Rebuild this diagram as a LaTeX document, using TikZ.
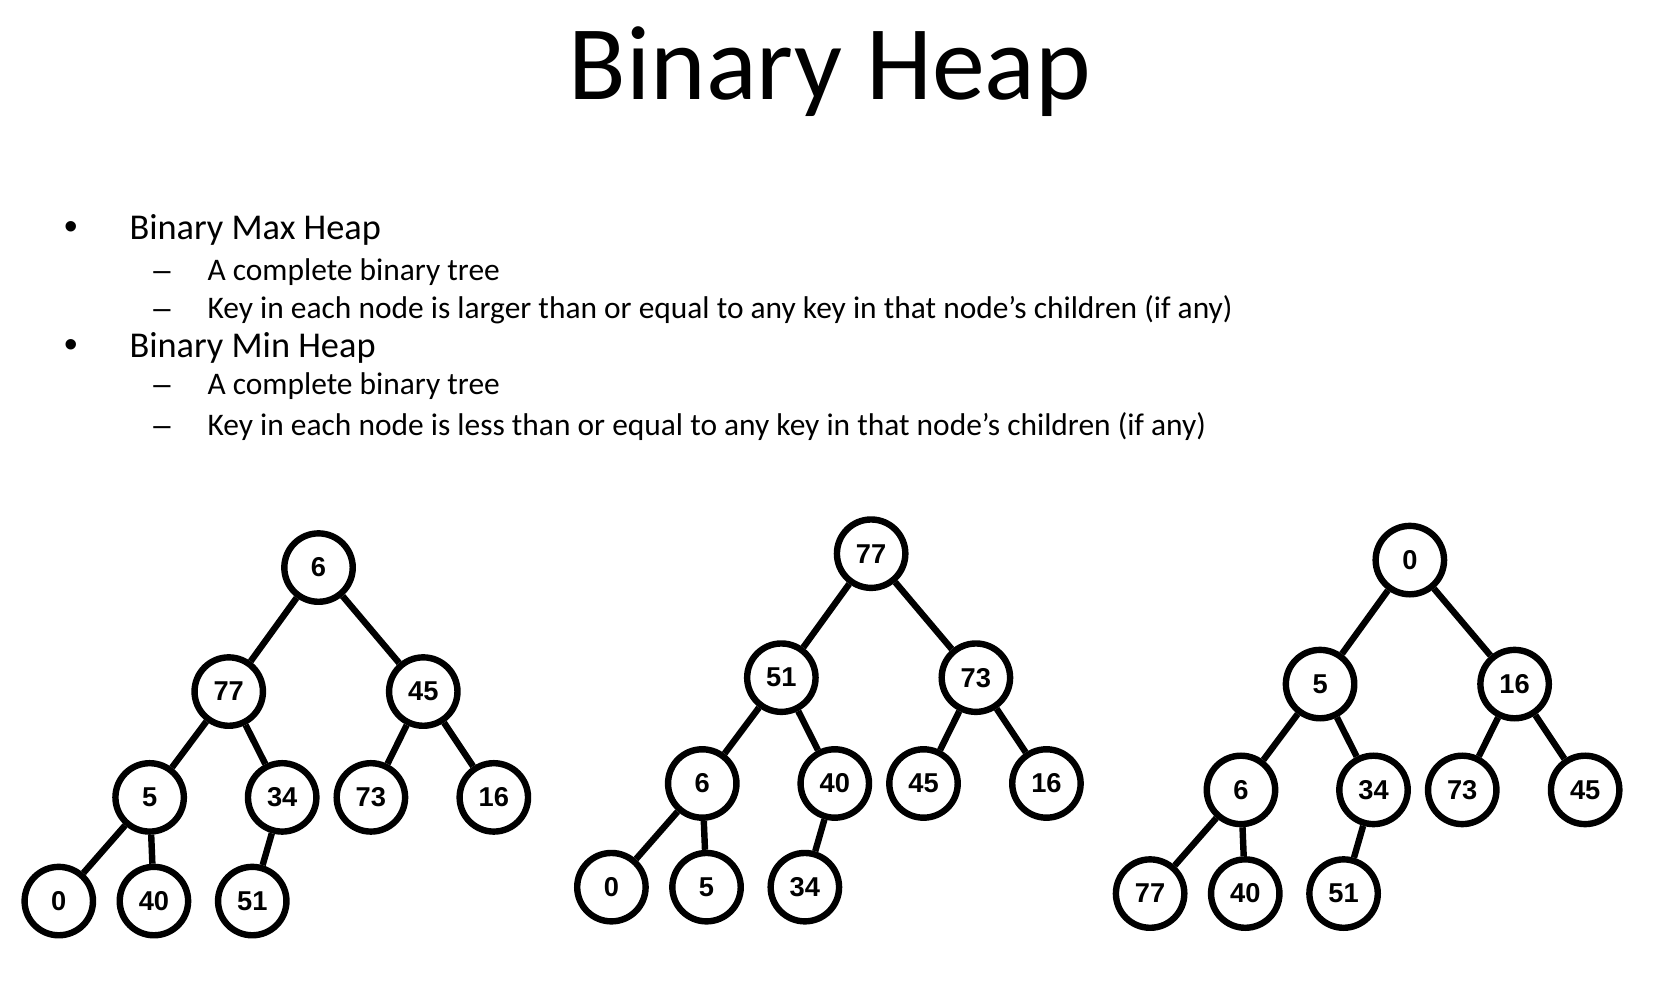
\documentclass[tikz,border=0pt]{standalone}
\usepackage{fontspec}
\setmainfont{Carlito}
\newfontfamily\keyfont{Liberation Sans}
\begin{document}
\begin{tikzpicture}[x=1pt, y=-1pt,
  heapnode/.style={circle, draw=black, line width=6pt, minimum size=64pt,
    inner sep=0pt, fill=white, font=\keyfont\bfseries\fontsize{25.5}{26}\selectfont},
  edge/.style={line width=6pt, black},
  lvlone/.style={anchor=base west, inner sep=0pt, font=\fontsize{34}{40}\selectfont},
  lvltwo/.style={anchor=base west, inner sep=0pt, font=\fontsize{29.4}{34}\selectfont},
  mark1/.style={anchor=base, inner sep=0pt, font=\keyfont\fontsize{36}{40}\selectfont},
  mark2/.style={anchor=base, inner sep=0pt, font=\keyfont\fontsize{29}{34}\selectfont}]
\fill[white] (0,0) rectangle (1568,941);
\useasboundingbox (0,0) rectangle (1568,941);

% heading
\node[anchor=base, inner sep=0pt] (title) at (776.5,93) {\fontsize{99}{108}\selectfont Binary Heap};

% bullet list
\node[mark1] (b1) at (67,224) {•};
\node[lvlone] (maxh) at (121,224) {Binary Max Heap};
\node[mark2] (d1) at (151.5,262) {–};
\node[lvltwo] (maxa) at (194,262) {A complete binary tree};
\node[mark2] (d2) at (151.5,298) {–};
\node[lvltwo] (maxb) at (194,298) {Key in each node is larger than or equal to any key in that node’s children (if any)};
\node[mark1] (b2) at (67,334) {•};
\node[lvlone] (minh) at (121,334) {Binary Min Heap};
\node[mark2] (d3) at (151.5,369.5) {–};
\node[lvltwo] (mina) at (194,369.5) {A complete binary tree};
\node[mark2] (d4) at (151.5,407) {–};
\node[lvltwo] (minb) at (194,407) {Key in each node is less than or equal to any key in that node’s children (if any)};

% tree 1: a complete binary tree
\begin{scope}[shift={(298,531)}]
  \node[heapnode] (ar)   at (0,0)      {6};
  \node[heapnode] (al)   at (-84,116)  {77};
  \node[heapnode] (ai)   at (98,116)   {45};
  \node[heapnode] (all)  at (-158,215) {5};
  \node[heapnode] (alr)  at (-34,215)  {34};
  \node[heapnode] (ail)  at (49,215)   {73};
  \node[heapnode] (air)  at (164,215)  {16};
  \node[heapnode] (alll) at (-243,312) {0};
  \node[heapnode] (allr) at (-154,312) {40};
  \node[heapnode] (alrl) at (-62,312)  {51};
\end{scope}
\draw[edge] (ar) -- (al);  \draw[edge] (ar) -- (ai);
\draw[edge] (al) -- (all); \draw[edge] (al) -- (alr);
\draw[edge] (ai) -- (ail); \draw[edge] (ai) -- (air);
\draw[edge] (all) -- (alll); \draw[edge] (all) -- (allr);
\draw[edge] (alr) -- (alrl);

% tree 2: max heap
\begin{scope}[shift={(815,518)}]
  \node[heapnode] (br)   at (0,0)      {77};
  \node[heapnode] (bl)   at (-84,116)  {51};
  \node[heapnode] (bi)   at (98,116)   {73};
  \node[heapnode] (bll)  at (-158,215) {6};
  \node[heapnode] (blr)  at (-34,215)  {40};
  \node[heapnode] (bil)  at (49,215)   {45};
  \node[heapnode] (bir)  at (164,215)  {16};
  \node[heapnode] (blll) at (-243,312) {0};
  \node[heapnode] (bllr) at (-154,312) {5};
  \node[heapnode] (blrl) at (-62,312)  {34};
\end{scope}
\draw[edge] (br) -- (bl);  \draw[edge] (br) -- (bi);
\draw[edge] (bl) -- (bll); \draw[edge] (bl) -- (blr);
\draw[edge] (bi) -- (bil); \draw[edge] (bi) -- (bir);
\draw[edge] (bll) -- (blll); \draw[edge] (bll) -- (bllr);
\draw[edge] (blr) -- (blrl);

% tree 3: min heap
\begin{scope}[shift={(1319,524)}]
  \node[heapnode] (cr)   at (0,0)      {0};
  \node[heapnode] (cl)   at (-84,116)  {5};
  \node[heapnode] (ci)   at (98,116)   {16};
  \node[heapnode] (cll)  at (-158,215) {6};
  \node[heapnode] (clr)  at (-34,215)  {34};
  \node[heapnode] (cil)  at (49,215)   {73};
  \node[heapnode] (cir)  at (164,215)  {45};
  \node[heapnode] (clll) at (-243,312) {77};
  \node[heapnode] (cllr) at (-154,312) {40};
  \node[heapnode] (clrl) at (-62,312)  {51};
\end{scope}
\draw[edge] (cr) -- (cl);  \draw[edge] (cr) -- (ci);
\draw[edge] (cl) -- (cll); \draw[edge] (cl) -- (clr);
\draw[edge] (ci) -- (cil); \draw[edge] (ci) -- (cir);
\draw[edge] (cll) -- (clll); \draw[edge] (cll) -- (cllr);
\draw[edge] (clr) -- (clrl);
\end{tikzpicture}
\end{document}
